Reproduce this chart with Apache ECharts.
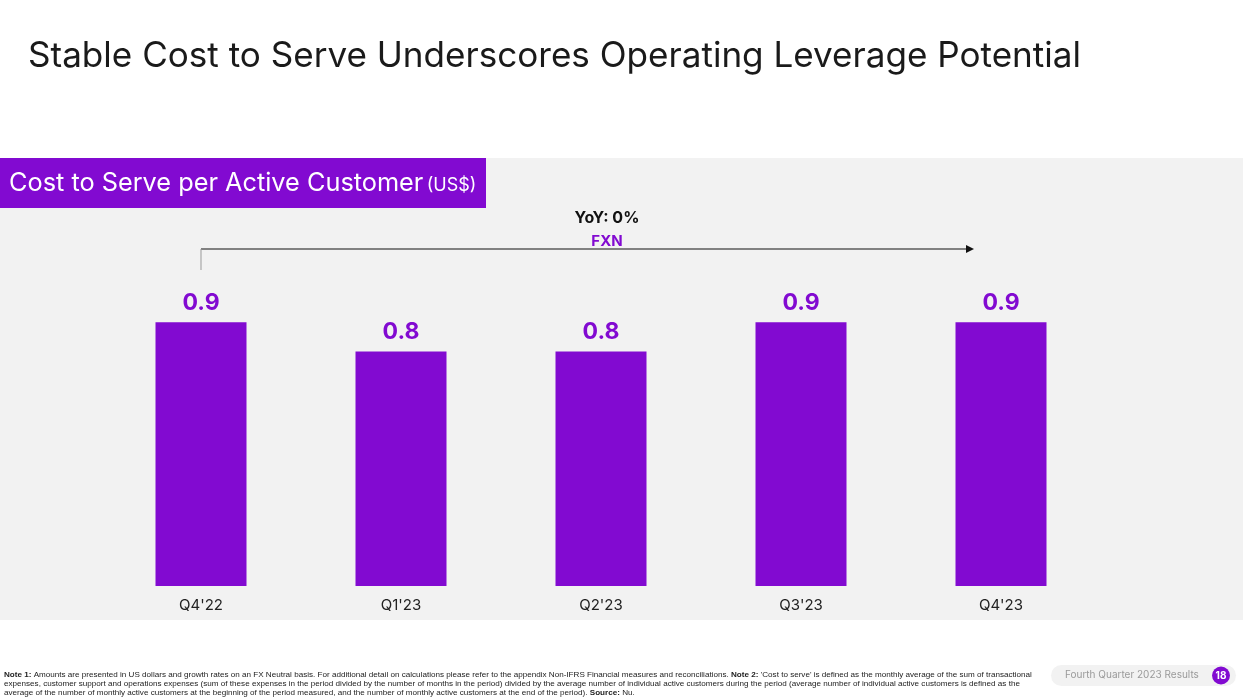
<!DOCTYPE html>
<html>
<head>
<meta charset="utf-8">
<script src="https://cdn.jsdelivr.net/npm/echarts@6/dist/echarts.min.js"></script>
<style>
html,body{margin:0;padding:0;background:#fff;}
#chart{width:1243px;height:700px;}
</style>
</head>
<body>
<div id="chart"></div>
<script>
const categories = ["Q4'22", "Q1'23", "Q2'23", "Q3'23", "Q4'23"];
const values = [0.9, 0.8, 0.8, 0.9, 0.9];
const yoyLabel = "YoY: 0%";
const fxnLabel = "FXN";
const titleText = "Stable Cost to Serve Underscores Operating Leverage Potential";
const headerText = "Cost to Serve per Active Customer";
const headerUnit = "(US$)";
const footLines = [
  ["Note 1:", " Amounts are presented in US dollars and growth rates on an FX Neutral basis. For additional detail on calculations please refer to the appendix Non-IFRS Financial measures and reconciliations. ", "Note 2:", " 'Cost to serve' is defined as the monthly average of the sum of transactional"],
  ["", "expenses, customer support and operations expenses (sum of these expenses in the period divided by the number of months in the period) divided by the average number of individual active customers during the period (average number of individual active customers is defined as the"],
  ["", "average of the number of monthly active customers at the beginning of the period measured, and the number of monthly active customers at the end of the period). ", "Source:", " Nu."]
];
const badgeText = "Fourth Quarter 2023 Results";
const pageNum = "18";

const PURPLE = '#820ad1';
const FONT = 'Inter, "Noto Sans", sans-serif';

const chart = echarts.init(document.getElementById('chart'), null, {renderer: 'canvas'});

function footRich(parts) {
  let s = '';
  parts.forEach((p, i) => {
    if (!p) return;
    s += (i % 2 === 0 ? '{b|' : '{n|') + p + '}';
  });
  return s;
}

const footGraphics = footLines.map((parts, i) => ({
  type: 'text', left: 4, top: 671 + i * 9, z: 5,
  style: {
    text: footRich(parts),
    rich: {
      b: {fontFamily: '"Liberation Sans", Arial, sans-serif', fontSize: 8.1, fontWeight: 'bold', fill: '#222'},
      n: {fontFamily: '"Liberation Sans", Arial, sans-serif', fontSize: 8.1, fill: '#222'}
    }
  }
}));

const option = {
  backgroundColor: '#ffffff',
  animation: false,
  grid: {left: 101, right: 142, top: 293, height: 293, containLabel: false},
  xAxis: {
    type: 'category', data: categories,
    axisLine: {show: false}, axisTick: {show: false},
    axisLabel: {color: '#222', fontFamily: FONT, fontSize: 15, margin: 12}
  },
  yAxis: {
    type: 'value', min: 0, max: 1, show: false, splitLine: {show: false}
  },
  series: [{
    type: 'bar', data: values, barWidth: 91,
    itemStyle: {color: PURPLE},
    label: {show: true, position: 'top', distance: 8, color: PURPLE, fontFamily: FONT, fontSize: 23, fontWeight: 'bold', formatter: p => p.value.toFixed(1)}
  }],
  graphic: [
    {type: 'rect', z: -10, shape: {x: 0, y: 158, width: 1243, height: 462}, style: {fill: '#f2f2f2'}},
    {type: 'rect', z: 5, shape: {x: 0, y: 158, width: 486, height: 50}, style: {fill: PURPLE}},
    {type: 'text', z: 6, left: 9, top: 171, style: {
      text: '{a|' + headerText + '} {u|' + headerUnit + '}',
      rich: {
        a: {fontFamily: FONT, fontSize: 25.3, fill: '#fff', fontWeight: 'normal'},
        u: {fontFamily: FONT, fontSize: 18, fill: '#fff', padding: [5, 0, 0, 0]}
      }
    }},
    {type: 'text', z: 6, left: 28, top: 39, style: {text: titleText, fontFamily: FONT, fontSize: 35.1, fill: '#1a1a1a'}},
    ...footGraphics,
    {type: 'rect', z: 5, shape: {x: 1051, y: 665, width: 185, height: 21, r: 10.5}, style: {fill: '#f2f2f2'}},
    {type: 'text', z: 6, left: 1065, top: 669.5, style: {text: badgeText, fontFamily: FONT, fontSize: 10, fill: '#9a9a9a'}},
    {type: 'circle', z: 6, shape: {cx: 1221, cy: 675.5, r: 9}, style: {fill: PURPLE}},
    {type: 'text', z: 7, x: 1221, y: 675.5, style: {text: pageNum, fontFamily: FONT, fontSize: 10, fontWeight: 'bold', fill: '#fff', align: 'center', verticalAlign: 'middle'}}
  ]
};
chart.setOption(option);

// annotation arrow, positioned from the axis scale
const x0 = chart.convertToPixel({xAxisIndex: 0}, categories[0]);
const x4 = chart.convertToPixel({xAxisIndex: 0}, categories[4]);
const arrowEnd = x4 - 27;
const ay = 249;
const mid = 607;
chart.setOption({
  graphic: option.graphic.concat([
    {type: 'line', z: 6, shape: {x1: x0, y1: ay, x2: arrowEnd - 6, y2: ay}, style: {stroke: '#111', lineWidth: 1.2}},
    {type: 'polygon', z: 6, shape: {points: [[arrowEnd - 8, ay - 4], [arrowEnd, ay], [arrowEnd - 8, ay + 4]]}, style: {fill: '#111'}},
    {type: 'line', z: 6, shape: {x1: x0, y1: ay, x2: x0, y2: 270}, style: {stroke: '#999', lineWidth: 1}},
    {type: 'text', z: 6, x: mid, y: 218, style: {text: yoyLabel, fontFamily: FONT, fontSize: 16, fontWeight: 'bold', fill: '#111', align: 'center', verticalAlign: 'middle'}},
    {type: 'text', z: 6, x: mid, y: 241, style: {text: fxnLabel, fontFamily: FONT, fontSize: 15, fontWeight: 'bold', fill: PURPLE, align: 'center', verticalAlign: 'middle'}}
  ])
});
</script>
</body>
</html>
